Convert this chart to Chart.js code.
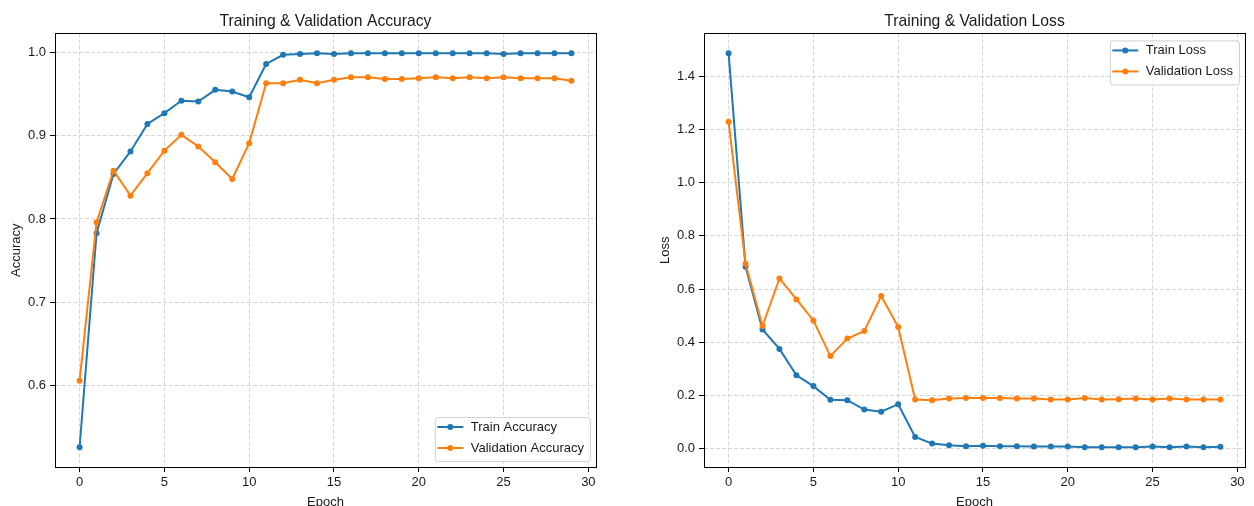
<!DOCTYPE html>
<html>
<head>
<meta charset="utf-8">
<script src="https://cdn.jsdelivr.net/npm/chart.js@4.4.1/dist/chart.umd.min.js"></script>
<style>
  html, body { margin: 0; padding: 0; background: #fff; overflow: hidden; }
  #wrap { position: relative; width: 1254px; height: 506px; overflow: hidden; }
  canvas { position: absolute; top: 0; }
</style>
</head>
<body>
<div id="wrap">
  <canvas id="accChart" width="627" height="520" style="left:0"></canvas>
  <canvas id="lossChart" width="627" height="520" style="left:627px"></canvas>
</div>
<script>
// Data
const epochs = [0, 1, 2, 3, 4, 5, 6, 7, 8, 9, 10, 11, 12, 13, 14, 15, 16, 17, 18, 19, 20, 21, 22, 23, 24, 25, 26, 27, 28, 29];
const trainAcc = [0.526, 0.783, 0.854, 0.881, 0.914, 0.927, 0.942, 0.941, 0.955, 0.953, 0.946, 0.986, 0.997, 0.998, 0.999, 0.998, 0.999, 0.999, 0.999, 0.999, 0.999, 0.999, 0.999, 0.999, 0.999, 0.998, 0.999, 0.999, 0.999, 0.999];
const valAcc = [0.606, 0.796, 0.858, 0.828, 0.855, 0.882, 0.901, 0.887, 0.868, 0.848, 0.891, 0.963, 0.963, 0.967, 0.963, 0.967, 0.970, 0.970, 0.968, 0.968, 0.969, 0.970, 0.969, 0.970, 0.969, 0.970, 0.969, 0.969, 0.969, 0.966];
const trainLoss = [1.487, 0.684, 0.448, 0.375, 0.276, 0.235, 0.184, 0.182, 0.147, 0.139, 0.167, 0.044, 0.019, 0.013, 0.009, 0.011, 0.009, 0.009, 0.008, 0.008, 0.008, 0.005, 0.005, 0.005, 0.005, 0.008, 0.005, 0.008, 0.005, 0.007];
const valLoss = [1.229, 0.695, 0.461, 0.640, 0.561, 0.482, 0.348, 0.414, 0.442, 0.574, 0.457, 0.185, 0.182, 0.188, 0.190, 0.190, 0.190, 0.188, 0.188, 0.185, 0.185, 0.190, 0.185, 0.186, 0.188, 0.185, 0.188, 0.185, 0.185, 0.185];

const epochTicks = [0, 5, 10, 15, 20, 25, 30];
const accTicks = [0.6, 0.7, 0.8, 0.9, 1.0];
const lossTicks = [0.0, 0.2, 0.4, 0.6, 0.8, 1.0, 1.2, 1.4];

const BLUE = '#1f77b4';
const ORANGE = '#ff7f0e';
const TEXT = '#1a1a1a';

Chart.defaults.font.family = '"Liberation Sans", "DejaVu Sans", sans-serif';
Chart.defaults.color = TEXT;

// matplotlib style 5% margins around the data
function padRange(arrays) {
    const all = [].concat(...arrays);
    const lo = Math.min(...all), hi = Math.max(...all);
    const m = (hi - lo) * 0.05;
    return [lo - m, hi + m];
}

const points = (ys) => epochs.map((e, i) => ({ x: e, y: ys[i] }));

// black box around the plot area
const framePlugin = {
    id: 'frame',
    afterDatasetsDraw(chart) {
        const { ctx, chartArea: a } = chart;
        ctx.save();
        ctx.strokeStyle = '#000';
        ctx.lineWidth = 1;
        ctx.strokeRect(Math.round(a.left) + 0.5, Math.round(a.top) + 0.5,
            Math.round(a.right - a.left), Math.round(a.bottom - a.top));
        ctx.restore();
    }
};

// legend box drawn inside the plot, like matplotlib
const boxLegend = {
    id: 'boxLegend',
    afterDraw(chart, args, opts) {
        const { ctx, chartArea: a } = chart;
        const sets = chart.data.datasets;
        ctx.save();
        ctx.font = '13px "Liberation Sans", "DejaVu Sans", sans-serif';
        const textW = Math.max(...sets.map(d => ctx.measureText(d.label).width));
        const w = 36 + textW + 6, h = 44;
        const left = a.right - 6 - w;
        const top = opts.corner === 'upper right' ? a.top + 7 : a.bottom - 6 - h;
        ctx.beginPath();
        ctx.roundRect(left + 0.5, top + 0.5, w, h, 3);
        ctx.fillStyle = 'rgba(255,255,255,0.8)';
        ctx.fill();
        ctx.strokeStyle = '#d0d0d0';
        ctx.lineWidth = 1;
        ctx.stroke();
        sets.forEach((d, i) => {
            const y = top + 10 + i * 21;
            ctx.strokeStyle = d.borderColor;
            ctx.lineWidth = 2;
            ctx.beginPath();
            ctx.moveTo(left + 2.5, y);
            ctx.lineTo(left + 28.5, y);
            ctx.stroke();
            ctx.fillStyle = d.borderColor;
            ctx.beginPath();
            ctx.arc(left + 15.5, y, 3, 0, Math.PI * 2);
            ctx.fill();
            ctx.fillStyle = TEXT;
            ctx.textBaseline = 'middle';
            ctx.textAlign = 'left';
            ctx.fillText(d.label, left + 36, y);
        });
        ctx.restore();
    }
};

function series(label, ys, color, order) {
    return {
        label: label,
        data: points(ys),
        borderColor: color,
        backgroundColor: color,
        borderWidth: 2,
        pointRadius: 3,
        pointBorderWidth: 0,
        pointBackgroundColor: color,
        tension: 0,
        order: order,
    };
}

const gridOpts = {
    color: '#d6d6d6',
    lineWidth: 1,
    borderDash: [4, 2],
    tickColor: '#000',
    tickLength: 5,
    tickWidth: 1,
    tickBorderDash: [1, 0],
};

function makeChart(id, title, yTitle, train, val, yTicks, legendCorner, padLeft, padRight) {
    const [xMin, xMax] = padRange([epochs]);
    const [yMin, yMax] = padRange([train.data.map(p => p.y), val.data.map(p => p.y)]);
    return new Chart(document.getElementById(id), {
        type: 'line',
        data: { datasets: [train, val] },
        options: {
            responsive: false,
            animation: false,
            events: [],
            layout: { padding: { left: padLeft, right: padRight, top: 0, bottom: 0 } },
            plugins: {
                legend: { display: false },
                tooltip: { enabled: false },
                title: {
                    display: true,
                    text: title,
                    fullSize: false,
                    color: TEXT,
                    font: { size: 15.7, weight: 'normal' },
                    padding: { top: 11.8, bottom: 2.8 },
                },
                boxLegend: { corner: legendCorner },
            },
            scales: {
                x: {
                    type: 'linear',
                    bounds: 'data',
                    min: xMin,
                    max: xMax,
                    afterBuildTicks: ax => { ax.ticks = epochTicks.map(v => ({ value: v })); },
                    afterFit: ax => { ax.height = 53; },
                    ticks: { padding: 3, font: { size: 13 }, color: TEXT, callback: v => String(v) },
                    grid: gridOpts,
                    border: { display: false, dash: [4, 2] },
                    title: { display: true, text: 'Epoch', color: TEXT, font: { size: 13 }, padding: { top: 0, bottom: 10 } },
                },
                y: {
                    type: 'linear',
                    bounds: 'data',
                    min: yMin,
                    max: yMax,
                    afterBuildTicks: ax => { ax.ticks = yTicks.map(v => ({ value: v })); },
                    afterFit: ax => { ax.width = 55; },
                    ticks: { padding: 4, font: { size: 13 }, color: TEXT, callback: v => v.toFixed(1) },
                    grid: gridOpts,
                    border: { display: false, dash: [4, 2] },
                    title: { display: true, text: yTitle, color: TEXT, font: { size: 13 }, padding: { top: 9, bottom: 0 } },
                },
            },
        },
        plugins: [framePlugin, boxLegend],
    });
}

makeChart('accChart', 'Training & Validation Accuracy', 'Accuracy',
    series('Train Accuracy', trainAcc, BLUE, 2),
    series('Validation Accuracy', valAcc, ORANGE, 1),
    accTicks, 'lower right', 0, 31);

makeChart('lossChart', 'Training & Validation Loss', 'Loss',
    series('Train Loss', trainLoss, BLUE, 2),
    series('Validation Loss', valLoss, ORANGE, 1),
    lossTicks, 'upper right', 22, 9);
</script>
</body>
</html>
